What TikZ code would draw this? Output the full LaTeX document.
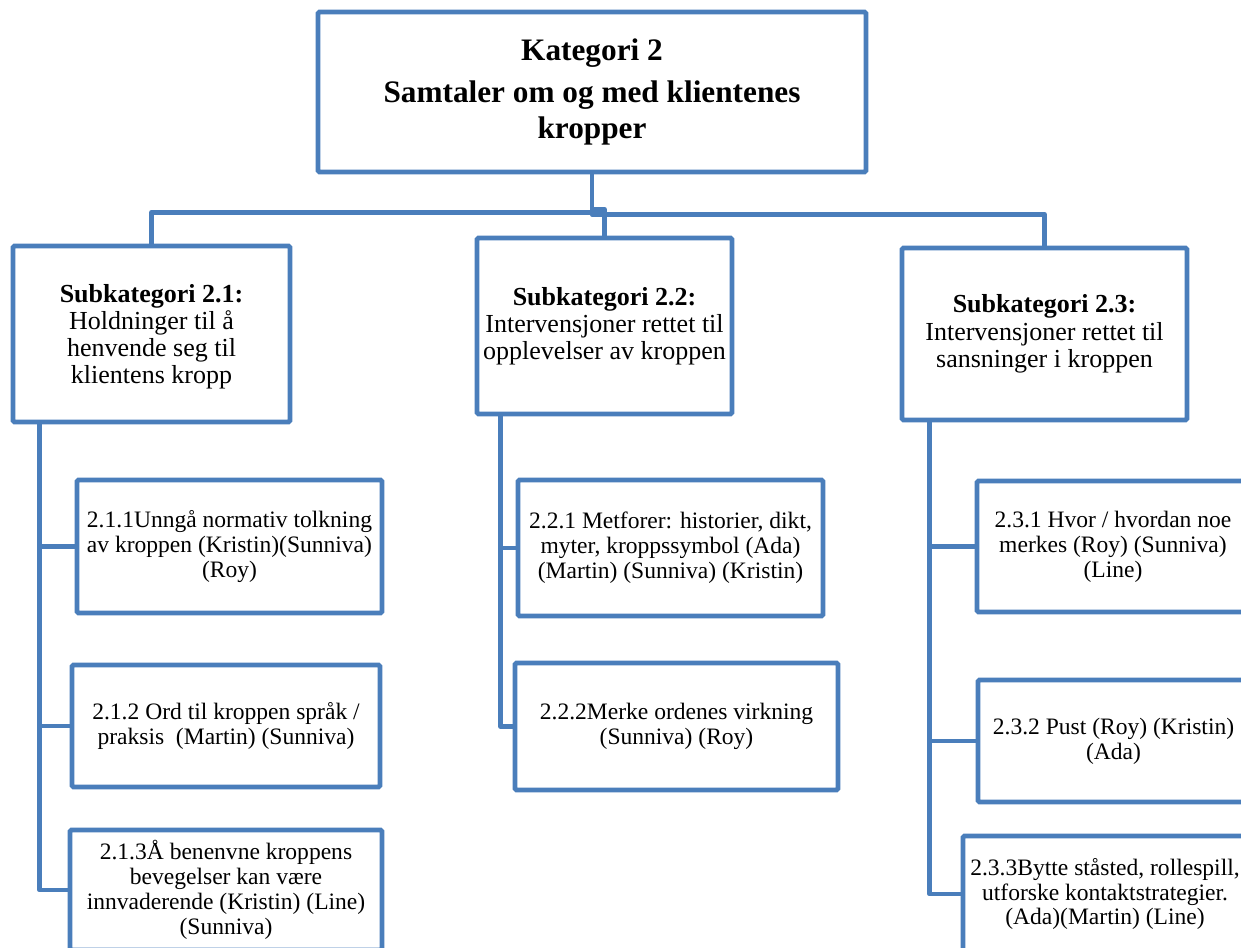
\documentclass[tikz,border=0pt]{standalone}
\usepackage{fontspec}
\setmainfont{Liberation Serif}
\usetikzlibrary{calc}
\newlength\pxu
\setlength\pxu{0.02cm}
\definecolor{linkblue}{RGB}{74,126,187}
\tikzset{
  box/.style={draw=linkblue, line width=2.6pt, fill=white, rounded corners=0.8pt,
    align=center, inner sep=0pt},
  link/.style={draw=linkblue, line width=2.8pt, line join=round},
  topfont/.style={font=\fontsize{17.8}{20.4}\selectfont\bfseries},
  subfont/.style={font=\fontsize{14.8}{15.5}\selectfont},
  leaffont/.style={font=\fontsize{13.4}{14.2}\selectfont},
}
\begin{document}
\begin{tikzpicture}[x=0.02cm,y=-0.02cm]
\clip (0,0) rectangle (1241,947);

% main category
\node[box, topfont, minimum width=548\pxu, minimum height=160\pxu] (top) at (592,92)
  {Kategori 2\\[3.4pt]Samtaler om og med klientenes\\kropper};

% subcategories
\node[box, subfont, minimum width=277\pxu, minimum height=176\pxu, text height=60pt] (s21) at (151.5,334)
  {\textbf{Subkategori 2.1:}\\Holdninger til å\\henvende seg til\\klientens kropp};
\node[box, subfont, minimum width=255\pxu, minimum height=176\pxu] (s22) at (604.5,326)
  {\textbf{Subkategori 2.2:}\\Intervensjoner rettet til\\opplevelser av kroppen};
\node[box, subfont, minimum width=285\pxu, minimum height=172\pxu] (s23) at (1044.5,334)
  {\textbf{Subkategori 2.3:}\\Intervensjoner rettet til\\sansninger i kroppen};

% items under 2.1
\node[box, leaffont, minimum width=305\pxu, minimum height=133\pxu] (b211) at (229.5,546.5)
  {2.1.1Unngå normativ tolkning\\av kroppen (Kristin)(Sunniva)\\(Roy)};
\node[box, leaffont, minimum width=308\pxu, minimum height=122\pxu] (b212) at (226,726)
  {2.1.2 Ord til kroppen språk /\\praksis~~(Martin) (Sunniva)};
\node[box, leaffont, minimum width=312\pxu, minimum height=120\pxu] (b213) at (226,890)
  {2.1.3Å benenvne kroppens\\bevegelser kan være\\innvaderende (Kristin) (Line)\\(Sunniva)};

% items under 2.2
\node[box, leaffont, minimum width=305\pxu, minimum height=136\pxu] (b221) at (670.5,548)
  {2.2.1 Metforer: historier, dikt,\\myter, kroppssymbol (Ada)\\(Martin) (Sunniva) (Kristin)};
\node[box, leaffont, minimum width=323\pxu, minimum height=127\pxu] (b222) at (676.5,726.5)
  {2.2.2Merke ordenes virkning\\(Sunniva) (Roy)};

% items under 2.3
\node[box, leaffont, minimum width=272\pxu, minimum height=131\pxu] (b231) at (1113,546.5)
  {2.3.1 Hvor / hvordan noe\\merkes (Roy) (Sunniva)\\(Line)};
\node[box, leaffont, minimum width=271\pxu, minimum height=122\pxu] (b232) at (1113.5,741)
  {2.3.2 Pust (Roy) (Kristin)\\(Ada)};
\node[box, leaffont, minimum width=284\pxu, minimum height=116\pxu] (b233) at (1105,894)
  {2.3.3Bytte ståsted, rollespill,\\utforske kontaktstrategier.\\(Ada)(Martin) (Line)};

% links from the main category
\draw[link] (top.south) -- ++(0,38) -| (s21.north);
\draw[link] (top.south) -- ++(0,35) -| (s22.north);
\draw[link] (top.south) -- ++(0,40) -| (s23.north);

% stems of the subcategories
\coordinate (t21) at ($(s21.south west)+(29,0)$);
\coordinate (t22) at ($(s22.south west)+(26,0)$);
\coordinate (t23) at ($(s23.south west)+(30,0)$);
\draw[link] (t21) |- (b211.west);
\draw[link] (t21) |- (b212.west);
\draw[link] (t21) |- (b213.west);
\draw[link] (t22) |- (b221.west);
\draw[link] (t22) |- (b222.west);
\draw[link] (t23) |- (b231.west);
\draw[link] (t23) |- (b232.west);
\draw[link] (t23) |- (b233.west);
\end{tikzpicture}
\end{document}
